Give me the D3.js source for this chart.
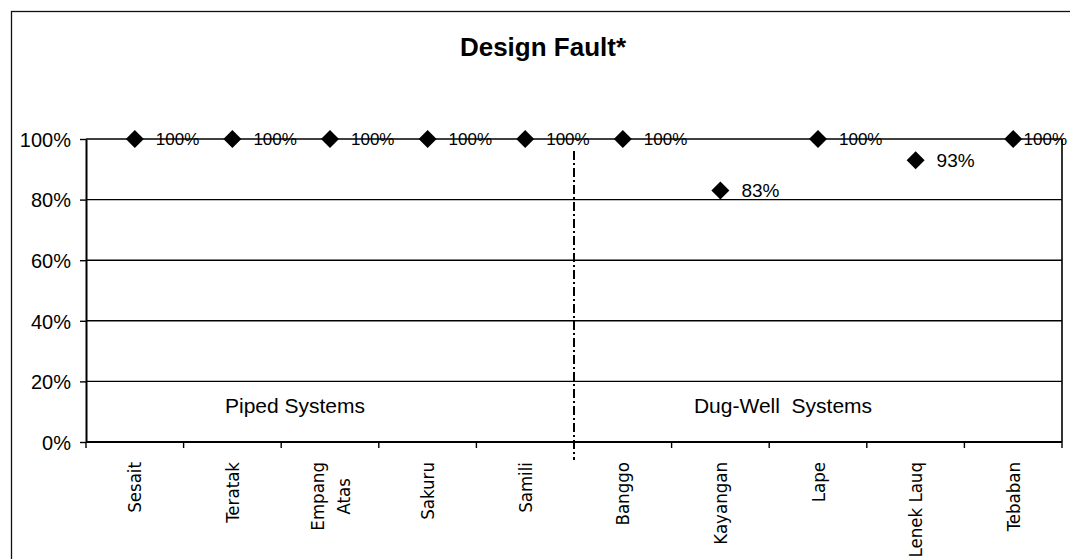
<!DOCTYPE html>
<html>
<head>
<meta charset="utf-8">
<script src="https://cdn.jsdelivr.net/npm/d3@7"></script>
<style>
    body { margin: 0; background: #fff; }
    text { font-family: "Liberation Sans", Arial, sans-serif; fill: #000; }
    .cat text { font-family: "DejaVu Sans Condensed", "DejaVu Sans", sans-serif; font-stretch: condensed; }
</style>
</head>
<body>
<main></main>
<script>
// Data
const categories = ['Sesait', 'Teratak', 'Empang\nAtas', 'Sakuru', 'Samili', 'Banggo', 'Kayangan', 'Lape', 'Lenek Lauq', 'Tebaban']
const values = [1, 1, 1, 1, 1, 1, 0.83, 1, 0.93, 1]
const yTicks = [0, 0.2, 0.4, 0.6, 0.8, 1]
const groups = ['Piped Systems', 'Dug-Well  Systems']
const groupSizes = [5, 5]
const title = 'Design Fault*'

function GeneratePlot() {
    // Configuration
    const total_width = 1070
    const total_height = 559
    const margin = { top: 139, right: 8, bottom: 117, left: 86 }
    const right = total_width - margin.right
    const bottom = total_height - margin.bottom

    const svg = d3.select('main')
        .append('svg')
        .attr('width', total_width)
        .attr('height', total_height)

    // outer chart frame (runs off the page on the right and bottom)
    svg.append('rect')
        .attr('x', 11.5)
        .attr('y', 11.5)
        .attr('width', 1100)
        .attr('height', 600)
        .attr('fill', 'none')
        .attr('stroke', '#111')
        .attr('stroke-width', 1.3)

    svg.append('text')
        .text(title)
        .attr('x', 543)
        .attr('y', 56)
        .attr('text-anchor', 'middle')
        .style('font-size', '26px')
        .style('font-weight', 'bold')

    const x = d3.scaleBand()
        .domain(categories)
        .range([margin.left, right])
    const y = d3.scaleLinear()
        .domain([0, 1])
        .range([bottom, margin.top])

    // Grid lines
    svg.append('g')
        .selectAll('line')
        .data(yTicks)
        .enter()
        .append('line')
        .attr('x1', margin.left)
        .attr('x2', right)
        .attr('y1', y)
        .attr('y2', y)
        .attr('stroke', '#000')
        .attr('stroke-width', 1.4)

    // right edge of plot area
    svg.append('line')
        .attr('x1', right).attr('x2', right)
        .attr('y1', y(1)).attr('y2', y(0))
        .attr('stroke', '#000')
        .attr('stroke-width', 1.6)

    // Y axis
    const yAxis = svg.append('g')
        .attr('transform', `translate(${margin.left},0)`)
        .call(d3.axisLeft(y)
            .tickValues(yTicks)
            .tickFormat(d3.format('.0%'))
            .tickSize(6)
            .tickSizeOuter(0)
            .tickPadding(9))
    yAxis.select('.domain').attr('stroke-width', 2)
    yAxis.selectAll('.tick line').attr('stroke-width', 1.4)
    yAxis.selectAll('text')
        .style('font-size', '20px')
        .style('font-family', '"Liberation Sans", Arial, sans-serif')
        .attr('dy', '0.36em')

    // X axis line and ticks at band edges
    svg.append('line')
        .attr('x1', margin.left).attr('x2', right)
        .attr('y1', y(0)).attr('y2', y(0))
        .attr('stroke', '#000')
        .attr('stroke-width', 2)
    svg.append('g')
        .selectAll('line')
        .data(d3.range(categories.length + 1))
        .enter()
        .append('line')
        .attr('x1', i => margin.left + i * x.step())
        .attr('x2', i => margin.left + i * x.step())
        .attr('y1', y(0))
        .attr('y2', y(0) + 6)
        .attr('stroke', '#000')
        .attr('stroke-width', 1.4)

    // Category labels, rotated
    const cats = svg.append('g')
        .classed('cat', true)
        .selectAll('g')
        .data(categories)
        .enter()
        .append('g')
        .attr('transform', d => `translate(${x(d) + x.bandwidth() / 2},${y(0) + 20}) rotate(-90)`)
    cats.each(function (d) {
        const g = d3.select(this)
        const lines = d.split('\n')
        const texts = lines.map((line, i) => g.append('text')
            .text(line)
            .attr('y', (i - (lines.length - 1) / 2) * 26)
            .attr('dy', '0.36em')
            .attr('text-anchor', 'middle')
            .style('font-size', '18.5px'))
        const longest = d3.max(texts, t => t.node().getComputedTextLength())
        texts.forEach(t => t.attr('x', -longest / 2))
    })

    // divider between the two system types
    const splitX = margin.left + groupSizes[0] * x.step()
    svg.append('line')
        .attr('x1', splitX).attr('x2', splitX)
        .attr('y1', y(1) + 12)
        .attr('y2', y(0) + 18)
        .attr('stroke', '#000')
        .attr('stroke-width', 2)
        .attr('stroke-dasharray', '9,3,2,3')

    // group labels
    let start = 0
    groups.forEach((name, i) => {
        const x0 = margin.left + start * x.step()
        const x1 = x0 + groupSizes[i] * x.step()
        start += groupSizes[i]
        svg.append('text')
            .text(name)
            .attr('x', (x0 + x1) / 2 - 35)
            .attr('y', y(0.1) + 1)
            .attr('text-anchor', 'middle')
            .style('white-space', 'pre')
            .style('font-size', '21px')
    })

    // Markers
    const points = categories.map((c, i) => ({ c, v: values[i] }))
    svg.append('g')
        .selectAll('path')
        .data(points)
        .enter()
        .append('path')
        .attr('d', d3.symbol(d3.symbolSquare, 162))
        .attr('transform', d => `translate(${x(d.c) + x.bandwidth() / 2},${y(d.v)}) rotate(45)`)
        .attr('fill', '#000')

    // Data labels
    svg.append('g')
        .selectAll('text')
        .data(points)
        .enter()
        .append('text')
        .text(d => d3.format('.0%')(d.v))
        .attr('x', d => x(d.c) + x.bandwidth() / 2 + 21)
        .attr('y', d => y(d.v))
        .attr('dy', '0.36em')
        .style('font-size', d => d.v === 1 ? '17px' : '19px')
        .each(function () {
            const t = d3.select(this)
            const w = this.getComputedTextLength()
            if (+t.attr('x') + w > total_width - 3) t.attr('x', total_width - 3 - w)
        })
}

GeneratePlot()
</script>
</body>
</html>
